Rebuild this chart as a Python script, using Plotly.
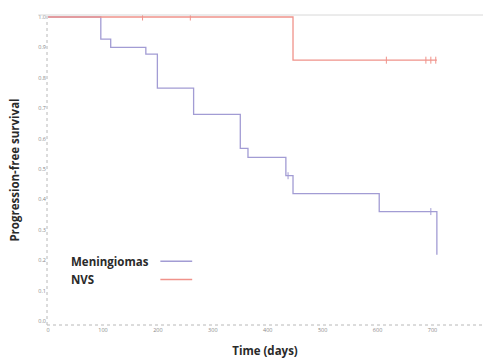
import plotly.graph_objects as go

# Meningiomas Kaplan-Meier steps (days, survival)
men_t = [0, 96, 114, 178, 199, 265, 350, 364, 433, 446, 603, 708]
men_s = [1.0, 0.927, 0.90, 0.878, 0.766, 0.68, 0.568, 0.538, 0.478, 0.419, 0.36, 0.218]
men_cens_t = [437, 697]
men_cens_s = [0.478, 0.36]

# NVS Kaplan-Meier steps
nvs_t = [0, 446, 708]
nvs_s = [1.0, 0.858, 0.858]
nvs_cens_t = [172, 259, 616, 688, 697, 706]
nvs_cens_s = [1.0, 1.0, 0.858, 0.858, 0.858, 0.858]

x_ticks = [0, 100, 200, 300, 400, 500, 600, 700]
y_ticks = [0.0, 0.1, 0.2, 0.3, 0.4, 0.5, 0.6, 0.7, 0.8, 0.9, 1.0]

men_color = "#a29cd4"
nvs_color = "#f0928a"

fig = go.Figure()
fig.add_trace(go.Scatter(x=men_t + [men_t[-1]], y=men_s + [men_s[-1]], mode="lines",
                         line=dict(color=men_color, width=1.3, shape="hv"), showlegend=False))
fig.add_trace(go.Scatter(x=nvs_t, y=nvs_s, mode="lines",
                         line=dict(color=nvs_color, width=1.3, shape="hv"), showlegend=False))
fig.add_trace(go.Scatter(x=men_cens_t, y=men_cens_s, mode="markers",
                         marker=dict(symbol="line-ns", size=5, line=dict(color=men_color, width=1)),
                         showlegend=False))
fig.add_trace(go.Scatter(x=nvs_cens_t, y=nvs_cens_s, mode="markers",
                         marker=dict(symbol="line-ns", size=5, line=dict(color=nvs_color, width=1)),
                         showlegend=False))

# axis lines (dotted) and top border
fig.add_shape(type="line", xref="paper", yref="paper", x0=0, x1=0, y0=0, y1=1,
              line=dict(color="#b8b8b8", width=1, dash="dot"))
fig.add_shape(type="line", xref="paper", yref="paper", x0=0, x1=1, y0=0, y1=0,
              line=dict(color="#b8b8b8", width=1, dash="dot"))
fig.add_shape(type="line", xref="paper", yref="paper", x0=-0.02, x1=1, y0=1, y1=1,
              line=dict(color="#d8d8d8", width=1))

# legend (text then sample line, as in original)
legend_items = [("Meningiomas", men_color), ("NVS", nvs_color)]
for i, (name, col) in enumerate(legend_items):
    yy = 0.206 - i * 0.059
    fig.add_annotation(x=0.05, y=yy, xref="paper", yref="paper", text="<b>" + name + "</b>",
                       showarrow=False, xanchor="left", yanchor="middle",
                       font=dict(size=11.5, color="#2a2a2a", family="Open Sans"))
    fig.add_shape(type="line", xref="paper", yref="paper", x0=0.26, x1=0.333, y0=yy, y1=yy,
                  line=dict(color=col, width=1.5))

fig.update_layout(
    width=483, height=360,
    margin=dict(l=47, r=0, t=15, b=35),
    plot_bgcolor="white", paper_bgcolor="white",
    showlegend=False,
    xaxis=dict(range=[-2, 792], tickvals=x_ticks, showgrid=False, zeroline=False,
               showline=False, ticks="", tickfont=dict(size=5.5, color="#888888"),
               automargin=False,
               title=dict(text="<b>Time (days)</b>", font=dict(size=11.5, color="#2a2a2a", family="Open Sans"),
                          standoff=14)),
    yaxis=dict(range=[-0.013, 1.0066], tickvals=y_ticks, tickformat=".1f", showgrid=False,
               zeroline=False, showline=False, ticks="", tickfont=dict(size=5.5, color="#888888"),
               automargin=False,
               title=dict(text="<b>Progression-free survival</b>",
                          font=dict(size=11.5, color="#2a2a2a", family="Open Sans"), standoff=16)),
)

fig.write_html("out.html")
